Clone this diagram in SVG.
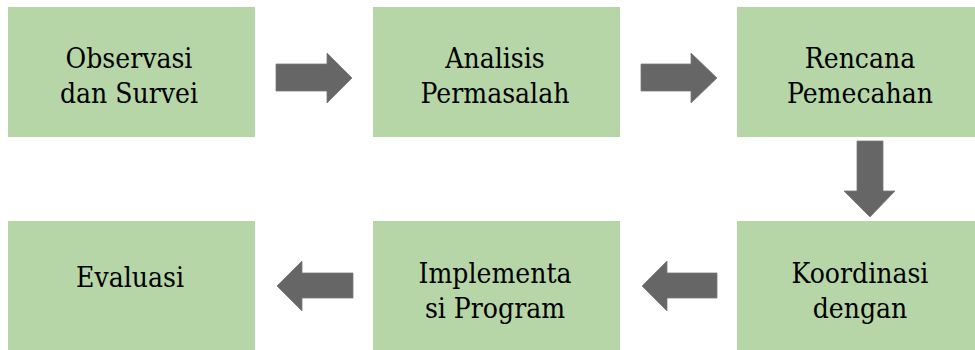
<svg xmlns="http://www.w3.org/2000/svg" width="975" height="350" viewBox="0 0 975 350">
<style>
.box{fill:#b6d6a8}
.lbl{font-family:'DejaVu Serif Condensed','DejaVu Serif',serif;font-stretch:condensed;font-size:28px;fill:#000;text-anchor:middle}
.arr{fill:#666666;stroke:#7a7a7a;stroke-width:0.8}
</style>
<rect width="975" height="350" fill="#ffffff"/>
<g id="n1"><rect class="box" x="8" y="7" width="247" height="130"/><text class="lbl" x="129" y="68">Observasi</text><text class="lbl" x="129" y="103">dan Survei</text></g>
<g id="n2"><rect class="box" x="373" y="7" width="247" height="130"/><text class="lbl" x="495" y="68">Analisis</text><text class="lbl" x="495" y="103">Permasalah</text></g>
<g id="n3"><rect class="box" x="737" y="7" width="247" height="130"/><text class="lbl" x="860" y="68">Rencana</text><text class="lbl" x="860" y="103">Pemecahan</text></g>
<g id="n4"><rect class="box" x="737" y="221" width="247" height="130"/><text class="lbl" x="860" y="283">Koordinasi</text><text class="lbl" x="860" y="318">dengan</text></g>
<g id="n5"><rect class="box" x="373" y="221" width="247" height="130"/><text class="lbl" x="495" y="283">Implementa</text><text class="lbl" x="495" y="318">si Program</text></g>
<g id="n6"><rect class="box" x="8" y="221" width="247" height="130"/><text class="lbl" x="130" y="287">Evaluasi</text></g>
<g id="connectors">
<polygon class="arr" points="276,64 327,64 327,53 352,78 327,103 327,91 276,91"/>
<polygon class="arr" points="641,64 691,64 691,53 717,78 691,103 691,91 641,91"/>
<polygon class="arr" points="857,141 883,141 883,191 895,191 870,217 844,191 857,191"/>
<polygon class="arr" points="717,273 667,273 667,261 642,286 667,311 667,298 717,298"/>
<polygon class="arr" points="353,273 302,273 302,261 277,286 302,311 302,298 353,298"/>
</g>
</svg>
